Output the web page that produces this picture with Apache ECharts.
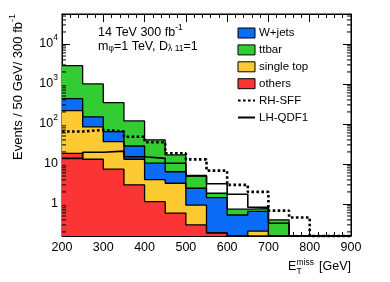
<!DOCTYPE html>
<html><head><meta charset="utf-8">
<script src="https://cdn.jsdelivr.net/npm/echarts@6/dist/echarts.min.js"></script>
<style>html,body{margin:0;padding:0;background:#fff}#c{width:390px;height:282px}</style>
</head><body><div id="c"></div>
<script>
// bin low edges (GeV), 50 GeV bins 200-900
const binEdges = [200,250,300,350,400,450,500,550,600,650,700,750,800,850,900];
// per-component events / 50 GeV / 300 fb-1
const others    = [18.5, 13.1, 7.4, 3.0, 1.14, 0.59, 0.30, 0.19, 0, 0, 0, 0, 0, 0];
const singleTop = [197, 72, 28.6, 10.1, 2.9, 2.7, 0.64, 0, 0, 0.21, 0, 0, 0, 0];
const wjets     = [213, 66, 28, 15, 6.4, 3.1, 1.53, 1.25, 0.53, 0.44, 0, 0, 0, 0];
const ttbar     = [2440, 850, 276, 91, 29.6, 10.4, 2.5, 0.41, 0.21, 0.11, 0.40, 0, 0, 0];
const rhSFF     = [65, 71, 65, 48, 35, 18.5, 13, 6.8, 3.0, 2.0, 0.68, 0.46, 0, 0];
const lhQDF1    = [13.8, 19.6, 21, 15.2, 13.8, 10.4, 5.1, 3.2, 1.75, 0.83, 0.33, 0, 0, 0];
const xTicks = [200,300,400,500,600,700,800,900];

const YMIN = 0.158, YMAX = 56234;
const FONT = '"Liberation Sans", Arial, Helvetica, sans-serif';

function sum(...arrs){ return arrs[0].map((_,i)=>arrs.reduce((s,a)=>s+a[i],0)); }
function stepData(vals){
  const pts = vals.map((v,i)=>[binEdges[i], Math.max(v, YMIN)]);
  pts.push([binEdges[binEdges.length-1], Math.max(vals[vals.length-1], YMIN)]);
  return pts;
}
const c1 = sum(others);
const c2 = sum(others, singleTop);
const c3 = sum(others, singleTop, wjets);
const c4 = sum(others, singleTop, wjets, ttbar);

const COL = {w:'#0a6cf7', t:'#33cc33', s:'#fdca32', o:'#fb3535'};

function fillSeries(name, data, color){
  return {
    name, type:'line', step:'end', data: stepData(data), symbol:'none',
    lineStyle:{color:'#000', width:1.3}, itemStyle:{color},
    areaStyle:{color, opacity:1, origin:'start'}, z:2, animation:false
  };
}
// minor log ticks 2..9 x 10^k
const minorVals = [];
for (let k=-1;k<=4;k++) for (let m=2;m<=9;m++){ const v=m*Math.pow(10,k); if (v>YMIN && v<YMAX) minorVals.push([200, v]); }

const chart = echarts.init(document.getElementById('c'), null, {renderer:'canvas'});
const axisCommon = {
  axisLine:{show:true, lineStyle:{color:'#000', width:1}},
  splitLine:{show:false}
};
chart.setOption({
  animation:false,
  grid:{left:62, right:39, top:14, bottom:46, show:true, borderColor:'#000', borderWidth:1, backgroundColor:'transparent'},
  xAxis:[{
    type:'value', min:200, max:900, interval:100, position:'bottom',
    ...axisCommon,
    axisTick:{show:true, inside:true, length:8, lineStyle:{color:'#000'}},
    minorTick:{show:true, splitNumber:5, length:4, lineStyle:{color:'#000'}},
    axisLabel:{color:'#000', fontSize:12.5, fontFamily:FONT, margin:5},
  },{
    type:'value', min:200, max:900, interval:100, position:'top',
    ...axisCommon,
    axisTick:{show:true, inside:true, length:8, lineStyle:{color:'#000'}},
    minorTick:{show:true, splitNumber:5, length:4, lineStyle:{color:'#000'}},
    axisLabel:{show:false}
  }],
  yAxis:[{
    type:'log', logBase:10, min:YMIN, max:YMAX, position:'left',
    ...axisCommon,
    axisTick:{show:true, inside:true, length:8, lineStyle:{color:'#000'}},
    axisLabel:{color:'#000', fontSize:12.5, fontFamily:FONT, margin:4,
      formatter: v => { const e=Math.log10(v), r=Math.round(e); if (Math.abs(e-r)>1e-6) return ''; if (r===0) return '1'; if (r===1) return '10'; return '10{sup|'+r+'}'; },
      rich:{sup:{fontSize:8.5, fontFamily:FONT, color:'#000', verticalAlign:'top', lineHeight:22}}
    }
  },{
    type:'log', logBase:10, min:YMIN, max:YMAX, position:'right',
    ...axisCommon,
    axisTick:{show:true, inside:true, length:8, lineStyle:{color:'#000'}},
    axisLabel:{show:false}
  }],
  legend:{
    left:237, top:27, padding:0, orient:'vertical', itemWidth:17, itemHeight:10, itemGap:4.9,
    textStyle:{color:'#000', fontSize:11.5, fontFamily:FONT, padding:[0,0,0,-1]},
    data:[
      {name:'W+jets', icon:'rect', itemStyle:{borderColor:'#000', borderWidth:1}},
      {name:'ttbar', icon:'rect', itemStyle:{borderColor:'#000', borderWidth:1}},
      {name:'single top', icon:'rect', itemStyle:{borderColor:'#000', borderWidth:1}},
      {name:'others', icon:'rect', itemStyle:{borderColor:'#000', borderWidth:1}},
      {name:'RH-SFF', itemStyle:{opacity:0, borderWidth:0}},
      {name:'LH-QDF1', itemStyle:{opacity:0, borderWidth:0}}
    ],
    selectedMode:false
  },
  series:[
    fillSeries('ttbar', c4, COL.t),
    fillSeries('W+jets', c3, COL.w),
    fillSeries('single top', c2, COL.s),
    fillSeries('others', c1, COL.o),
    { name:'RH-SFF', type:'line', step:'end', data:stepData(rhSFF), symbol:'none', z:4, clip:false,
      itemStyle:{color:'#000'}, lineStyle:{color:'#000', width:2.6, type:[2.6,2.4]} },
    { name:'LH-QDF1', type:'line', step:'end', data:stepData(lhQDF1), symbol:'none', z:4,
      itemStyle:{color:'#000'}, lineStyle:{color:'#000', width:1.6} },
    { name:'minorY', type:'custom', data:minorVals, z:5, silent:true,
      renderItem:(params, api)=>{
        const cs = params.coordSys;
        const y = api.coord([200, api.value(1)])[1];
        return {type:'group', children:[
          {type:'line', shape:{x1:cs.x, y1:y, x2:cs.x+4, y2:y}, style:{stroke:'#000', lineWidth:1}},
          {type:'line', shape:{x1:cs.x+cs.width, y1:y, x2:cs.x+cs.width-4, y2:y}, style:{stroke:'#000', lineWidth:1}}
        ]};
      }
    }
  ],
  graphic:[
    {type:'text', left:98, top:23, style:{text:'14 TeV 300 fb{sup|-1}', fill:'#000', font:'12.5px '+FONT,
      rich:{sup:{fontSize:8.5, fontFamily:FONT, fill:'#000', verticalAlign:'top', lineHeight:20}}}},
    {type:'text', left:98, top:40, style:{text:'m{sub|φ}=1 TeV, D{sub|λ 11}=1', fill:'#000', font:'12.5px '+FONT,
      rich:{sub:{fontSize:8.5, fontFamily:FONT, fill:'#000', verticalAlign:'bottom', lineHeight:14}}}},
    {type:'text', x:18, y:87, rotation:Math.PI/2, style:{text:'Events / 50 GeV/ 300 fb{sup|-1}', fill:'#000', font:'13px '+FONT,
      align:'center', verticalAlign:'middle',
      rich:{sup:{fontSize:9, fontFamily:FONT, fill:'#000', verticalAlign:'top', lineHeight:20}}}},
    {type:'text', x:288, y:267, style:{text:'E', fill:'#000', font:'12.5px '+FONT, verticalAlign:'middle'}},
    {type:'text', x:296.5, y:262.5, style:{text:'miss', fill:'#000', font:'8.5px '+FONT, verticalAlign:'middle'}},
    {type:'text', x:296.5, y:272, style:{text:'T', fill:'#000', font:'8.5px '+FONT, verticalAlign:'middle'}},
    {type:'text', x:351, y:267, style:{text:'[GeV]', fill:'#000', font:'12.5px '+FONT, align:'right', verticalAlign:'middle'}}
  ]
});
</script></body></html>
